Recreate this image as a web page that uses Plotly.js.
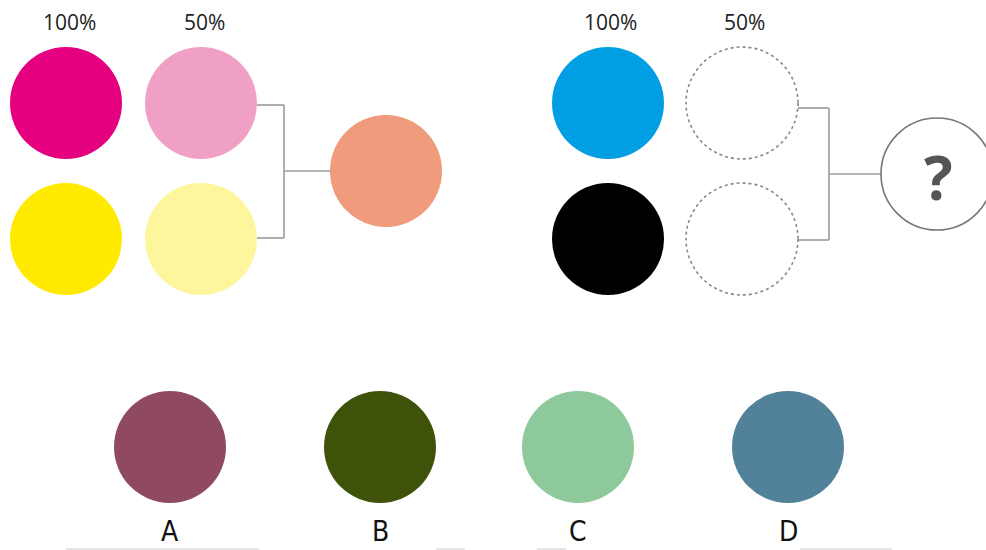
<!DOCTYPE html>
<html>
<head>
<meta charset="utf-8">
<script src="https://cdn.plot.ly/plotly-3.0.1.min.js"></script>
<style>html,body{margin:0;padding:0;background:#fff;}#chart{width:986px;height:550px;}</style>
</head>
<body>
<div id="chart"></div>
<script>
// Left mixing example
const leftLabels = ["100%", "50%"];
const leftColorsFull = ["#E4007F", "#FFEA00"];
const leftColorsHalf = ["#F0A0C5", "#FEF69C"];
const leftResultColor = "#F09B7B";

// Right puzzle
const rightLabels = ["100%", "50%"];
const rightColorsFull = ["#009FE3", "#000000"];
const rightQuestion = "?";

// Answer options
const optionLetters = ["A", "B", "C", "D"];
const optionColors = ["#8F4A62", "#3E520A", "#8DC99B", "#52829A"];

// layout geometry (pixel-like units)
const R = 56;
const rowY = [103, 239];
const leftColX = [66, 201];
const leftResult = {x: 386, y: 171};
const rightColX = [608, 742];
const rightResult = {x: 937, y: 174};
const optionX = [170, 380, 578, 788];
const optionY = 447;

const shapes = [];
const annotations = [];
function circle(cx, cy, fill, line) {
  shapes.push({type: "circle", xref: "x", yref: "y", x0: cx - R, x1: cx + R, y0: cy - R, y1: cy + R,
    fillcolor: fill, line: line || {width: 0}, layer: "above"});
}
function seg(x0, y0, x1, y1) {
  shapes.push({type: "line", xref: "x", yref: "y", x0, y0, x1, y1, line: {color: "#9a9a9a", width: 1.6}});
}
function label(x, y, text, size, color, family, bold) {
  annotations.push({x, y, xref: "x", yref: "y", text: bold ? "<b>" + text + "</b>" : text, showarrow: false,
    font: {size, color, family}, xanchor: "center", yanchor: "middle"});
}

// left
leftLabels.forEach((t, i) => label(leftColX[i] + 3, 22, t, 21, "#222", "Open Sans"));
rowY.forEach((y, i) => {
  circle(leftColX[0], y, leftColorsFull[i]);
  circle(leftColX[1], y, leftColorsHalf[i]);
});
circle(leftResult.x, leftResult.y, leftResultColor);
const lbx = 284;
seg(leftColX[1] + R, 105, lbx, 105);
seg(lbx, 105, lbx, 238);
seg(leftColX[1] + R, 238, lbx, 238);
seg(lbx, leftResult.y, leftResult.x - R, leftResult.y);

// right
rightLabels.forEach((t, i) => label(rightColX[i] + 2, 22, t, 21, "#222", "Open Sans"));
rowY.forEach((y, i) => {
  circle(rightColX[0], y, rightColorsFull[i]);
  circle(rightColX[1], y, "rgba(0,0,0,0)", {color: "#888", width: 1.6, dash: "dot"});
});
const rbx = 829;
seg(rightColX[1] + R, 108, rbx, 108);
seg(rbx, 108, rbx, 240);
seg(rightColX[1] + R, 240, rbx, 240);
seg(rbx, rightResult.y, rightResult.x - R, rightResult.y);
circle(rightResult.x, rightResult.y, "#fff", {color: "#777", width: 1.6});
label(rightResult.x + 1, rightResult.y + 3, rightQuestion, 60, "#555", "Open Sans", true);

// options
optionColors.forEach((c, i) => {
  circle(optionX[i], optionY, c);
  label(optionX[i], 531, optionLetters[i], 28, "#111", "Liberation Sans Narrow, DejaVu Sans Condensed, sans-serif");
});

// faint strip at the bottom edge
[[66, 259], [436, 465], [537, 566], [800, 892]].forEach(([a, b]) => {
  shapes.push({type: "rect", xref: "x", yref: "y", x0: a, x1: b, y0: 548, y1: 550, fillcolor: "#e6e6e6", line: {width: 0}});
});

Plotly.newPlot("chart", [{x: [0, 986], y: [0, 550], mode: "markers", marker: {opacity: 0}, hoverinfo: "skip", showlegend: false}], {
  width: 986, height: 550,
  margin: {l: 0, r: 0, t: 0, b: 0},
  paper_bgcolor: "#fff", plot_bgcolor: "#fff",
  xaxis: {range: [0, 986], visible: false, fixedrange: true},
  yaxis: {range: [550, 0], visible: false, fixedrange: true},
  shapes, annotations, showlegend: false
}, {displayModeBar: false, staticPlot: true});
</script>
</body>
</html>
